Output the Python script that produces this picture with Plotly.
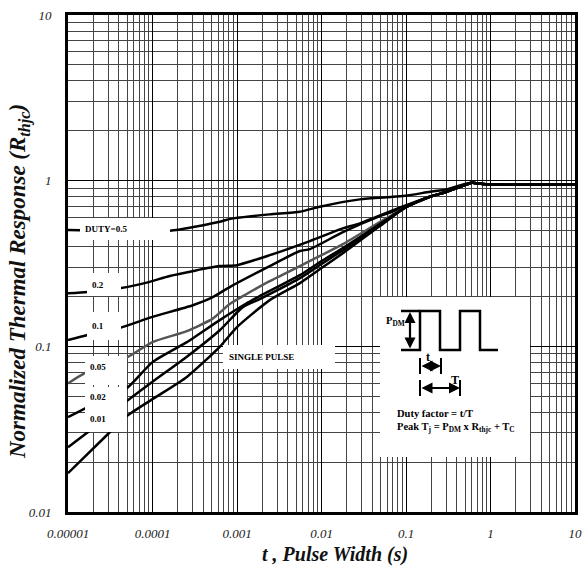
import plotly.graph_objects as go

# ---------------- data ----------------
duty_labels = ["DUTY=0.5", "0.2", "0.1", "0.05", "0.02", "0.01", "SINGLE PULSE"]

d05_t = [1e-5, 1.6e-4, 6.25e-4, 8.67e-4, 2.44e-3, 5.55e-3, 9.55e-3, 0.0284, 0.0918, 0.192, 0.305, 0.526, 0.603, 0.88, 10]
d05_r = [0.503, 0.499, 0.565, 0.590, 0.626, 0.649, 0.696, 0.771, 0.807, 0.857, 0.886, 0.963, 0.971, 0.95, 0.95]

d02_t = [1e-5, 1.71e-5, 4.09e-5, 9.27e-5, 1.6e-4, 6.25e-4, 1e-3, 2.44e-3, 7.28e-3, 0.0179, 0.0284, 0.0918, 0.192, 0.305, 0.526, 0.603, 0.88, 10]
d02_r = [0.209, 0.213, 0.224, 0.245, 0.266, 0.305, 0.309, 0.355, 0.432, 0.515, 0.552, 0.698, 0.80, 0.857, 0.95, 0.971, 0.95, 0.95]

d01_t = [1e-5, 1.71e-5, 4.09e-5, 9.8e-5, 3.0e-4, 5.16e-4, 8.2e-4, 2.44e-3, 5.55e-3, 7.28e-3, 0.0179, 0.049, 0.1, 0.192, 0.305, 0.526, 0.603, 0.88, 10]
d01_r = [0.109, 0.117, 0.129, 0.150, 0.177, 0.198, 0.228, 0.305, 0.376, 0.386, 0.489, 0.611, 0.693, 0.80, 0.857, 0.95, 0.971, 0.95, 0.95]

d005_t = [1e-5, 1.58e-5, 4.96e-5, 1e-4, 2.55e-4, 5.16e-4, 8.2e-4, 1.3e-3, 2.44e-3, 5.55e-3, 0.01, 0.0179, 0.049, 0.1, 0.192, 0.305, 0.526, 0.603, 0.88, 10]
d005_r = [0.0597, 0.0689, 0.0855, 0.106, 0.1235, 0.147, 0.180, 0.207, 0.2475, 0.305, 0.355, 0.414, 0.562, 0.693, 0.80, 0.857, 0.95, 0.971, 0.95, 0.95]

d002_t = [1e-5, 1.71e-5, 4.96e-5, 1e-4, 2.55e-4, 6.25e-4, 1.3e-3, 1.86e-3, 5.55e-3, 0.01, 0.0179, 0.049, 0.1, 0.192, 0.305, 0.526, 0.603, 0.88, 10]
d002_r = [0.0374, 0.0429, 0.0559, 0.0803, 0.106, 0.144, 0.182, 0.201, 0.269, 0.327, 0.392, 0.547, 0.693, 0.80, 0.857, 0.95, 0.971, 0.95, 0.95]

d001_t = [1e-5, 1.71e-5, 4.96e-5, 1e-4, 2.55e-4, 6.25e-4, 1.17e-3, 1.86e-3, 5.55e-3, 0.01, 0.0179, 0.049, 0.1, 0.192, 0.305, 0.526, 0.603, 0.88, 10]
d001_r = [0.0246, 0.0303, 0.0467, 0.0611, 0.0865, 0.125, 0.1725, 0.193, 0.258, 0.314, 0.381, 0.539, 0.693, 0.80, 0.857, 0.95, 0.971, 0.95, 0.95]

single_t = [1e-5, 3.12e-5, 4.96e-5, 1e-4, 2.55e-4, 6.25e-4, 1e-3, 2.44e-3, 5.55e-3, 0.01, 0.0179, 0.049, 0.1, 0.192, 0.305, 0.526, 0.603, 0.88, 10]
single_r = [0.01715, 0.0303, 0.0379, 0.048, 0.0654, 0.0993, 0.1306, 0.190, 0.2407, 0.2967, 0.3653, 0.532, 0.693, 0.80, 0.857, 0.95, 0.971, 0.95, 0.95]

x_tickvals = [1e-5, 1e-4, 1e-3, 1e-2, 1e-1, 1, 10]
x_ticktext = ["0.00001", "0.0001", "0.001", "0.01", "0.1", "1", "10"]
y_tickvals = [0.01, 0.1, 1, 10]
y_ticktext = ["0.01", "0.1", "1", "10"]

# ---------------- layout helpers ----------------
W, H = 586, 571
L, R, T, B = 68, 575, 15, 512


def PX(x):
    return (x - L) / (R - L)


def PY(y):
    return (B - y) / (B - T)


SERIF = "Liberation Serif"

fig = go.Figure()

series = [
    (d05_t, d05_r, "#000000"),
    (d02_t, d02_r, "#000000"),
    (d01_t, d01_r, "#000000"),
    (d005_t, d005_r, "#555555"),
    (d002_t, d002_r, "#000000"),
    (d001_t, d001_r, "#000000"),
    (single_t, single_r, "#000000"),
]
for (tt, rr, col), name in zip(series, duty_labels):
    fig.add_trace(go.Scatter(x=tt, y=rr, mode="lines", name=name,
                             line=dict(color=col, width=2.5, shape="spline", smoothing=0.6),
                             showlegend=False, hoverinfo="skip"))

shapes = []
# white label boxes
boxes = [(80, 218, 170, 240), (87, 273, 121, 296), (87, 312, 121, 340),
         (85, 356, 127, 385), (85, 387, 127, 432), (223, 345, 335, 369),
         (380, 297, 530, 457)]
for x0, y0, x1, y1 in boxes:
    shapes.append(dict(type="rect", xref="paper", yref="paper",
                       x0=PX(x0), x1=PX(x1), y0=PY(y1), y1=PY(y0),
                       fillcolor="white", line=dict(width=0), layer="above"))

# pulse waveform
pts = [(401, 350), (420, 350), (420, 311), (440, 311), (440, 350), (460, 350),
       (460, 311), (480, 311), (480, 350), (498, 350)]
path = "M " + " L ".join(f"{PX(x):.5f},{PY(y):.5f}" for x, y in pts)
shapes.append(dict(type="path", xref="paper", yref="paper", path=path,
                   line=dict(color="black", width=2.5), layer="above"))
# top tick of P_DM
shapes.append(dict(type="line", xref="paper", yref="paper", x0=PX(401), x1=PX(420),
                   y0=PY(311), y1=PY(311), line=dict(color="black", width=2.5), layer="above"))
# end bars for t and T
for xb, yb0, yb1 in [(420, 358, 374), (441, 358, 374), (420, 380, 396), (460, 380, 396)]:
    shapes.append(dict(type="line", xref="paper", yref="paper", x0=PX(xb), x1=PX(xb),
                       y0=PY(yb0), y1=PY(yb1), line=dict(color="black", width=2), layer="above"))

annotations = []
# arrows
for (hx, hy, ax, ay) in [(410, 312, 0, 38), (441, 366, -21, 0), (460, 388, -40, 0)]:
    annotations.append(dict(xref="paper", yref="paper", x=PX(hx), y=PY(hy), ax=ax, ay=ay,
                            text="", showarrow=True, arrowhead=2, arrowside="end+start",
                            arrowsize=1, arrowwidth=2.2, arrowcolor="black"))

bold = dict(family=SERIF, size=9, color="black", weight="bold")
label_pos = [(83, 229), (90, 285), (90, 326), (88, 367), (88, 397), (88, 419), (227, 357)]
for txt, (x, y) in zip(duty_labels, label_pos):
    annotations.append(dict(xref="paper", yref="paper", x=PX(x), y=PY(y), text=txt,
                            showarrow=False, xanchor="left", yanchor="middle", font=bold))

inset_font = dict(family=SERIF, size=10.5, color="black", weight="bold")
annotations += [
    dict(xref="paper", yref="paper", x=PX(384), y=PY(322), text="P<sub>DM</sub>",
         showarrow=False, xanchor="left", yanchor="middle", font=inset_font),
    dict(xref="paper", yref="paper", x=PX(428), y=PY(357), text="t",
         showarrow=False, xanchor="center", yanchor="middle", font=dict(inset_font, size=12)),
    dict(xref="paper", yref="paper", x=PX(455), y=PY(380), text="T",
         showarrow=False, xanchor="center", yanchor="middle", font=dict(inset_font, size=12)),
    dict(xref="paper", yref="paper", x=PX(395), y=PY(413), text="Duty factor = t/T",
         showarrow=False, xanchor="left", yanchor="middle", font=inset_font),
    dict(xref="paper", yref="paper", x=PX(395), y=PY(427),
         text="Peak T<sub>j</sub> = P<sub>DM</sub> x R<sub>thjc</sub> + T<sub>C</sub>",
         showarrow=False, xanchor="left", yanchor="middle", font=inset_font),
    # axis titles
    dict(xref="paper", yref="paper", x=PX(19), y=PY(282), textangle=-90,
         text="Normalized Thermal Response (R<sub>thjc</sub>)", showarrow=False,
         xanchor="center", yanchor="middle",
         font=dict(family=SERIF, size=23, color="#111", weight="bold", style="italic")),
    dict(xref="paper", yref="paper", x=PX(335), y=PY(554),
         text="t , Pulse Width (s)", showarrow=False, xanchor="center", yanchor="middle",
         font=dict(family=SERIF, size=20, color="#111", weight="bold", style="italic")),
]

tickfont = dict(family=SERIF, size=13, color="#222", style="italic")
fig.update_layout(
    width=W, height=H,
    margin=dict(l=L, r=W - R, t=T, b=H - B, pad=0),
    paper_bgcolor="white", plot_bgcolor="white",
    shapes=shapes, annotations=annotations,
    xaxis=dict(type="log", range=[-5, 1], tickvals=x_tickvals, ticktext=x_ticktext,
               showgrid=True, gridcolor="black", gridwidth=1,
               minor=dict(dtick="D1", showgrid=True, gridcolor="#444", gridwidth=1),
               showline=True, mirror=True, linecolor="black", linewidth=3,
               ticks="", tickfont=tickfont, ticklabelstandoff=7, zeroline=False,
               automargin=False),
    yaxis=dict(type="log", range=[-2, 1], tickvals=y_tickvals, ticktext=y_ticktext,
               showgrid=True, gridcolor="black", gridwidth=1,
               minor=dict(dtick="D1", showgrid=True, gridcolor="#444", gridwidth=1),
               showline=True, mirror=True, linecolor="black", linewidth=3,
               ticks="", tickfont=tickfont, ticklabelstandoff=11, zeroline=False,
               automargin=False),
)

fig.write_html("out.html", config={"displayModeBar": False},
               post_script="document.body.style.margin='0';")
